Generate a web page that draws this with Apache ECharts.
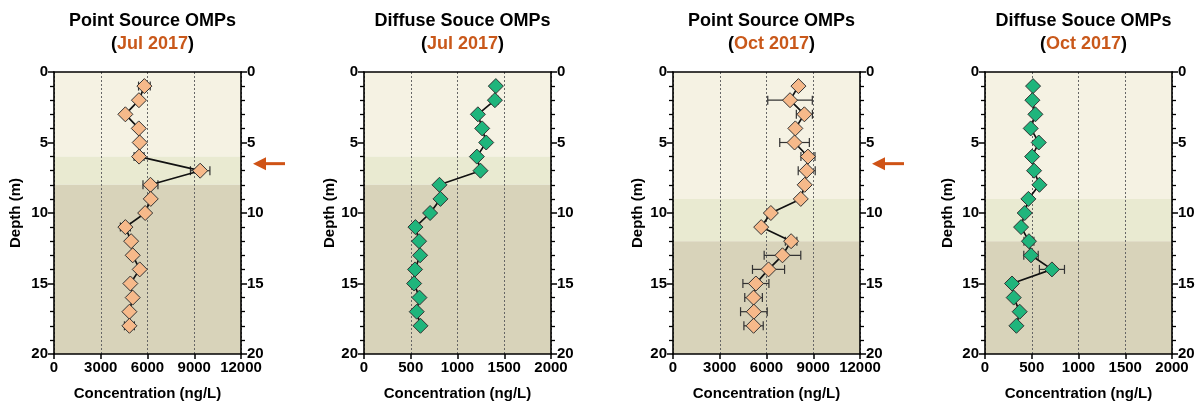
<!DOCTYPE html>
<html>
<head>
<meta charset="utf-8">
<script src="https://cdn.jsdelivr.net/npm/echarts@6/dist/echarts.min.js"></script>
<style>
html,body{margin:0;padding:0;background:#fff;}
#c{width:1198px;height:404px;}
</style>
</head>
<body>
<div id="c"></div>
<script>
// ---- data ----
const DEPTH = [1,2,3,4,5,6,7,8,9,10,11,12,13,14,15,16,17,18];

const PS_JUL     = [5800,5450,4580,5440,5500,5460,9380,6190,6210,5850,4580,4950,5050,5500,4900,5050,4840,4840];
const PS_JUL_ERR = [375,120,0,0,0,320,625,480,0,0,320,0,0,0,0,0,0,320];

const DS_JUL     = [1410,1400,1218,1264,1307,1207,1246,807,818,707,550,589,600,546,536,593,564,604];
const DS_JUL_ERR = [0,35,0,0,25,0,0,0,0,0,0,0,0,0,0,0,25,0];

const PS_OCT     = [8050,7510,8430,7850,7800,8660,8580,8450,8200,6280,5660,7580,7025,6130,5320,5170,5190,5170];
const PS_OCT_ERR = [0,1430,515,0,950,450,545,0,0,0,0,370,1175,1030,835,565,855,620];

const DS_OCT     = [514,507,539,489,575,504,525,582,464,425,386,470,492,716,289,307,371,336];
const DS_OCT_ERR = [0,0,0,0,0,0,0,0,0,0,0,53,77,134,0,0,0,0];

const BANDS_JUL = [0,6,8,20];
const BANDS_OCT = [0,9,12,20];

const X_MAX      = [12000, 2000, 12000, 2000];
const X_INTERVAL = [3000, 500, 3000, 500];
const TITLES     = ['Point Source OMPs','Diffuse Souce OMPs','Point Source OMPs','Diffuse Souce OMPs'];
const DATES      = ['Jul 2017','Jul 2017','Oct 2017','Oct 2017'];
const ARROW_DEPTH = [6.5, null, 6.5, null];

const X_TITLE = 'Concentration (ng/L)';
const Y_TITLE = 'Depth (m)';

// ---- styles ----
const PANEL_LEFT = [54, 364, 673, 985];
const PANEL_W = 187;
const GRID_TOP = 72, GRID_BOTTOM = 50;
const BAND_COLORS = ['#F5F2E3', '#E9EAD1', '#D8D3BA'];
const FILL = ['#F6B98A', '#1FB57C', '#F6B98A', '#1FB57C'];
const NAME_GAP_Y = [31, 26, 28, 30];
const FONT = '"Liberation Sans", Arial, sans-serif';

const panels = [
  {vals: PS_JUL, err: PS_JUL_ERR, bands: BANDS_JUL},
  {vals: DS_JUL, err: DS_JUL_ERR, bands: BANDS_JUL},
  {vals: PS_OCT, err: PS_OCT_ERR, bands: BANDS_OCT},
  {vals: DS_OCT, err: DS_OCT_ERR, bands: BANDS_OCT}
];

const grid = [], xAxis = [], yAxis = [], series = [], title = [];
const plain = v => String(v);

panels.forEach((p, i) => {
  grid.push({left: PANEL_LEFT[i], width: PANEL_W, top: GRID_TOP, bottom: GRID_BOTTOM,
             containLabel: false, outerBoundsMode: 'none'});
  const axisLine = {show: true, onZero: false, lineStyle: {color: '#000', width: 1.6}};
  xAxis.push({
    type: 'value', gridIndex: i, min: 0, max: X_MAX[i], interval: X_INTERVAL[i], position: 'bottom', z: 3,
    axisLine, axisTick: {show: true, length: 5, lineStyle: {color: '#000', width: 1.5}},
    axisLabel: {color: '#000', fontFamily: FONT, fontWeight: 'bold', fontSize: 15, margin: 6, formatter: plain},
    splitLine: {show: true, lineStyle: {type: [2, 2], color: '#666', width: 1}},
    name: X_TITLE, nameLocation: 'middle', nameGap: 32,
    nameTextStyle: {color: '#000', fontFamily: FONT, fontWeight: 'bold', fontSize: 15}
  });
  xAxis.push({
    type: 'value', gridIndex: i, min: 0, max: X_MAX[i], position: 'top', z: 3,
    axisLine, axisTick: {show: false}, axisLabel: {show: false}, splitLine: {show: false}
  });
  const yCommon = {
    type: 'value', gridIndex: i, min: 0, max: 20, interval: 5, inverse: true, z: 3,
    axisLine,
    axisTick: {show: true, length: 6, lineStyle: {color: '#000', width: 1.5}},
    minorTick: {show: true, splitNumber: 5, length: 4, lineStyle: {color: '#000', width: 1.3}},
    splitLine: {show: false},
    axisLabel: {color: '#000', fontFamily: FONT, fontWeight: 'bold', fontSize: 15, margin: 6, formatter: plain}
  };
  yAxis.push(Object.assign({}, yCommon, {
    position: 'left', name: Y_TITLE, nameLocation: 'middle', nameGap: NAME_GAP_Y[i], nameRotate: 90,
    nameTextStyle: {color: '#000', fontFamily: FONT, fontWeight: 'bold', fontSize: 15}
  }));
  yAxis.push(Object.assign({}, yCommon, {position: 'right'}));

  const xi = i * 2, yi = i * 2;
  // bands
  const bandData = [];
  for (let k = 0; k < p.bands.length - 1; k++) bandData.push([p.bands[k], p.bands[k + 1], k]);
  series.push({
    type: 'custom', xAxisIndex: xi, yAxisIndex: yi, z: 1, silent: true,
    data: bandData,
    renderItem: (params, api) => {
      const cs = params.coordSys;
      const a = api.coord([0, api.value(0)]);
      const b = api.coord([0, api.value(1)]);
      return {type: 'rect', shape: {x: cs.x, y: a[1], width: cs.width, height: b[1] - a[1]},
              style: {fill: BAND_COLORS[api.value(2)]}};
    },
    encode: {y: [0, 1]}
  });
  // error bars
  const errData = [];
  p.vals.forEach((v, k) => { if (p.err[k] > 0) errData.push([v - p.err[k], v + p.err[k], DEPTH[k]]); });
  series.push({
    type: 'custom', xAxisIndex: xi, yAxisIndex: yi, z: 4, silent: true,
    data: errData, encode: {x: [0, 1], y: 2},
    renderItem: (params, api) => {
      const l = api.coord([api.value(0), api.value(2)]);
      const r = api.coord([api.value(1), api.value(2)]);
      const h = 4.5;
      const st = {stroke: '#333', lineWidth: 1.2};
      return {type: 'group', children: [
        {type: 'line', shape: {x1: l[0], y1: l[1], x2: r[0], y2: r[1]}, style: st},
        {type: 'line', shape: {x1: l[0], y1: l[1] - h, x2: l[0], y2: l[1] + h}, style: st},
        {type: 'line', shape: {x1: r[0], y1: r[1] - h, x2: r[0], y2: r[1] + h}, style: st}
      ]};
    }
  });
  // line + diamonds
  series.push({
    type: 'line', xAxisIndex: xi, yAxisIndex: yi, z: 5,
    data: p.vals.map((v, k) => [v, DEPTH[k]]),
    symbol: 'diamond', symbolSize: 15, showSymbol: true,
    lineStyle: {color: '#111', width: 1.7},
    itemStyle: {color: FILL[i], borderColor: '#333', borderWidth: 1},
    animation: false
  });

  title.push({
    left: PANEL_LEFT[i] + PANEL_W / 2, top: 5, textAlign: 'center',
    text: '{a|' + TITLES[i] + '}\n{b|(}{c|' + DATES[i] + '}{b|)}',
    textStyle: {
      rich: {
        a: {fontFamily: FONT, fontWeight: 'bold', fontSize: 18, color: '#000', lineHeight: 23, align: 'center'},
        b: {fontFamily: FONT, fontWeight: 'bold', fontSize: 18, color: '#000', lineHeight: 23},
        c: {fontFamily: FONT, fontWeight: 'bold', fontSize: 18, color: '#C9581A', lineHeight: 23}
      }
    }
  });
});

const chart = echarts.init(document.getElementById('c'), null, {renderer: 'canvas'});
chart.setOption({animation: false, backgroundColor: '#fff', title, grid, xAxis, yAxis, series});

// arrows (annotation) placed at the depth through the y scale
const graphic = [];
ARROW_DEPTH.forEach((d, i) => {
  if (d == null) return;
  const y = chart.convertToPixel({yAxisIndex: i * 2}, d);
  const tipX = PANEL_LEFT[i] + PANEL_W + 12;
  graphic.push({
    type: 'group', children: [
      {type: 'polygon', shape: {points: [[tipX, y], [tipX + 13, y - 6.5], [tipX + 13, y + 6.5]]}, style: {fill: '#CF5316'}},
      {type: 'rect', shape: {x: tipX + 12, y: y - 1.5, width: 20, height: 3}, style: {fill: '#CF5316'}}
    ]
  });
});
chart.setOption({graphic});
</script>
</body>
</html>
